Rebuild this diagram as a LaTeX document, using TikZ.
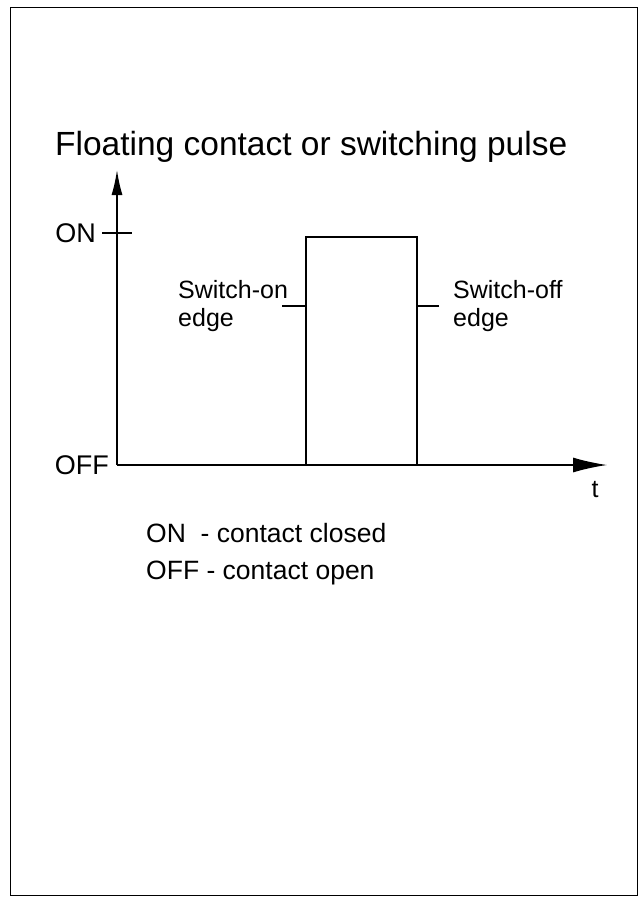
\documentclass[tikz,border=0pt]{standalone}
\usepackage{fontspec}
\setmainfont{Liberation Sans}
\usetikzlibrary{arrows.meta,positioning}

\begin{document}
\begin{tikzpicture}[
  x=1pt, y=-1pt,
  font=\fontsize{25}{28}\selectfont,
  frame/.style={line width=1pt},
  axis/.style={line width=1.4pt},
  pulse/.style={line width=1.4pt},
  tickmark/.style={line width=1.2pt},
  label/.style={align=left, inner sep=0pt}
]
\useasboundingbox (0,0) rectangle (643,898);
\draw[frame] (10,7) rectangle (637,895);

% title
\node[label, font=\fontsize{33.5}{36}\selectfont, anchor=base west] (title) at (55,155) {Floating contact or switching pulse};

% axes
\coordinate (origin) at (117,465);
\coordinate (ytip) at (117,170);
\coordinate (xtip) at (607,465);
\draw[axis, -{Latex[length=25pt,width=11pt]}] (origin) -- (ytip);
\draw[axis, -{Latex[length=34pt,width=15pt]}] (origin) -- (xtip);
\node[label, anchor=base] (t) at (595,497) {t};

% levels
\coordinate (onL) at (102,233);
\coordinate (onR) at (132,233);
\draw[tickmark] (onL) -- (onR);
\node[label, font=\fontsize{27}{30}\selectfont, anchor=east] (on) at (96,233) {ON};
\node[label, font=\fontsize{27}{30}\selectfont, anchor=east] (off) at (109,465) {OFF};

% pulse
\coordinate (riseB) at (306,465);
\coordinate (riseT) at (306,237);
\coordinate (fallT) at (417,237);
\coordinate (fallB) at (417,465);
\draw[pulse] (riseB) -- (riseT) -- (fallT) -- (fallB);

% edge labels (base = last line)
\node[label, anchor=base west] (swon) at (178,326) {Switch-on\\edge};
\node[label, anchor=base west] (swoff) at (453,326) {Switch-off\\edge};
\coordinate (swonE) at (282,306);
\coordinate (swoffE) at (439,306);
\draw[tickmark] (swonE) -- (swonE -| riseB);
\draw[tickmark] (swoffE) -- (swoffE -| fallB);

% legend
\node[label, font=\fontsize{26.5}{37}\selectfont, anchor=base west] (legend) at (146,579)
  {ON\ \ - contact closed\\OFF - contact open};

\end{tikzpicture}
\end{document}
